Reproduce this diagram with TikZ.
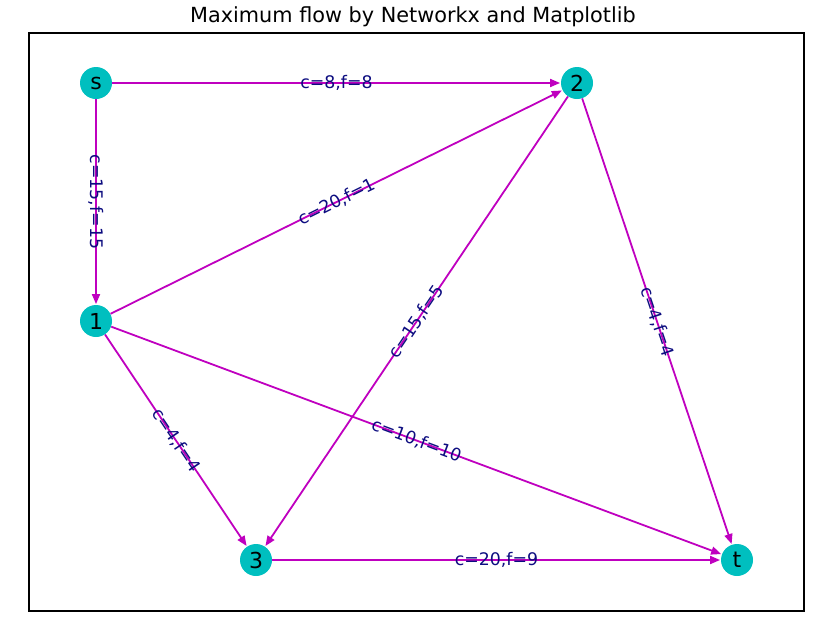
\documentclass[tikz,border=0pt]{standalone}
\usepackage{fontspec}
\setmainfont{DejaVu Sans}
\usetikzlibrary{arrows.meta}
\definecolor{nodec}{rgb}{0,0.75,0.75}
\definecolor{edgem}{rgb}{0.75,0,0.75}
\definecolor{lblc}{rgb}{0.05,0.05,0.5}
\begin{document}
\begin{tikzpicture}[x=0.75pt,y=-0.75pt,
  vtx/.style={circle,fill=nodec,minimum size=24pt,inner sep=0pt,font=\fontsize{16.5}{19}\selectfont},
  arc/.style={draw=edgem,line width=1.35pt,-{Triangle[length=7.5pt,width=6pt]},shorten >=0.5pt},
  lbl/.style={text=lblc,font=\fontsize{13}{15}\selectfont,inner sep=0pt,midway}]
\useasboundingbox (0,0) rectangle (827,632);
\draw[line width=0.8pt] (29,33) rectangle (804,611);
\node[font=\fontsize{15.6}{18}\selectfont] (title) at (413,17) {Maximum flow by Networkx and Matplotlib};
\node[vtx] (s) at (96,83) {s};
\node[vtx] (2) at (577,83) {2};
\node[vtx] (1) at (96,321) {1};
\node[vtx] (3) at (256,560) {3};
\node[vtx] (t) at (737,560) {t};
\draw[arc] (s) -- node[lbl]{c=8,f=8} (2);
\draw[arc] (s) -- node[lbl,rotate=-90]{c=15,f=15} (1);
\draw[arc] (1) -- node[lbl,sloped]{c=20,f=1} (2);
\draw[arc] (1) -- node[lbl,sloped]{c=4,f=4} (3);
\draw[arc] (1) -- node[lbl,sloped]{c=10,f=10} (t);
\draw[arc] (2) -- node[lbl,sloped]{c=15,f=5} (3);
\draw[arc] (2) -- node[lbl,sloped]{c=4,f=4} (t);
\draw[arc] (3) -- node[lbl]{c=20,f=9} (t);
\end{tikzpicture}
\end{document}
